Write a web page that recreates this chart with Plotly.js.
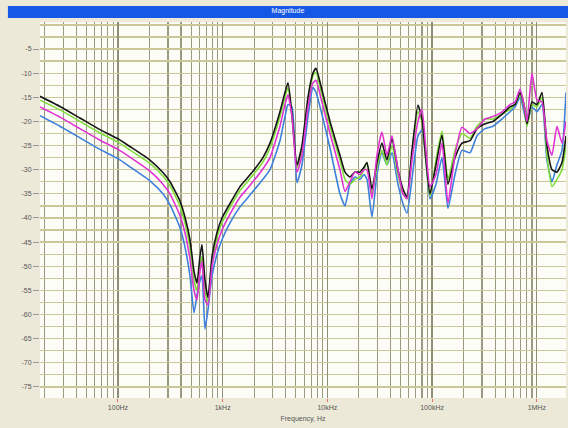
<!DOCTYPE html>
<html>
<head>
<meta charset="utf-8">
<script src="https://cdn.plot.ly/plotly-3.0.1.min.js"></script>
<style>html,body{margin:0;padding:0;background:#ECE9D8;}#chart{width:568px;height:428px;}</style>
</head>
<body>
<div id="chart"></div>
<script>
const freqHz = [18, 27.9, 43.4, 67.3, 100, 130, 202, 269, 314, 391, 436, 487, 532, 568, 607, 634, 678, 724, 791, 883, 985, 1175, 1463, 1706, 2034, 2426, 2830, 3525, 3937, 4207, 4592, 5126, 5719, 6530, 7284, 7786, 8876, 10590, 13190, 14730, 16440, 18350, 20480, 22370, 23890, 26660, 29760, 33220, 37080, 41390, 47220, 52700, 57550, 64230, 73290, 80140, 87450, 95490, 109000, 124400, 141900, 165500, 193100, 230200, 268600, 320000, 381700, 465600, 554800, 619400, 691500, 754800, 806100, 899600, 1004000, 1122000, 1251000, 1397000, 1559000, 1742000, 1902000];

const blackDb = [-14.8, -16.9, -19.3, -21.7, -23.6, -25.2, -28.0, -30.6, -32.5, -36.5, -39.8, -44.5, -51, -53.5, -48, -45.5, -53, -56.5, -48, -43, -40, -37, -33.5, -31.8, -29.8, -27.5, -24.5, -18, -14, -12, -18.5, -29, -25, -15, -10, -9, -13.5, -20, -27, -30.5, -31.5, -30.5, -30.5, -29.5, -28.5, -34, -28.5, -24.5, -28, -23.5, -30, -34, -35.6, -26, -16.6, -19.5, -28, -35, -29, -22.8, -33, -27.5, -24.5, -24, -21.5, -20.5, -20, -18.5, -17, -16.5, -14, -16.5, -20.5, -16, -16.5, -14, -25, -30, -30.5, -28.5, -23];

const greenDb = [-15.6, -17.6, -20.0, -22.4, -24.3, -25.9, -28.7, -31.3, -33.3, -37.5, -41, -46, -53, -55, -50, -48, -55, -57.5, -49, -44, -41, -37.8, -34.3, -32.6, -30.6, -28.4, -25.5, -19, -15, -13, -19, -29.5, -25.5, -16, -10.5, -9.8, -14.5, -21, -28, -32, -33, -32, -31.5, -30, -28.5, -35, -29.5, -26, -29, -25, -31, -35, -36, -27.5, -18, -20, -28.5, -35.5, -28, -22, -32, -26, -22.5, -23.5, -21, -19.5, -19.5, -18.5, -17.5, -16.5, -14.5, -17, -21, -16.5, -17, -15, -27, -33.5, -32, -30, -25];

const magentaDb = [-17, -19.1, -21.5, -23.9, -25.8, -27.4, -30.3, -33, -35, -39.5, -43, -48.5, -55, -57, -51, -49, -57, -58, -50, -45.5, -42.5, -39.2, -35.7, -34, -32, -29.8, -27.5, -21, -16.5, -14.5, -19, -30.5, -27, -17, -12, -11.5, -16, -22.5, -30, -34.5, -32.5, -30.5, -31, -30, -30, -36, -27, -22.2, -27, -23, -30, -35, -36, -28, -20, -17.5, -26, -33.5, -31, -24.5, -36.9, -27, -21.2, -22.5, -21.5, -19.5, -19, -18, -16.5, -16, -13.3, -16.5, -20, -10, -15.5, -16, -24, -27, -21, -24.5, -20];

const blueDb = [-18.8, -21, -23.4, -25.8, -27.7, -29.4, -32.3, -35, -37.3, -42, -46, -52, -59.7, -56, -53, -52, -63, -59, -52, -47.5, -44.5, -41, -37.7, -36, -34, -32, -30, -24, -19, -16.5, -17, -32.7, -29, -19, -13, -14, -18.5, -25.5, -35, -37.5, -33, -31.5, -32, -31, -32, -39.8, -31, -26.5, -29, -26.5, -33, -37, -39, -32, -23, -21.8, -28, -36, -33, -27.5, -38, -31, -26, -26.5, -23, -21.5, -21, -19.5, -18, -17, -15, -18, -20.5, -17, -18, -16.5, -28, -32.5, -29, -26, -14];

const xTickVals = [100, 1000, 10000, 100000, 1000000];
const xTickText = ['100Hz', '1kHz', '10kHz', '100kHz', '1MHz'];
const yTickVals = [-5, -10, -15, -20, -25, -30, -35, -40, -45, -50, -55, -60, -65, -70, -75];
const yTickText = ['-5', '-10', '-15', '-20', '-25', '-30', '-35', '-40', '-45', '-50', '-55', '-60', '-65', '-70', '-75'];

const mk = (y, color, name) => ({
  x: freqHz, y: y, type: 'scatter', mode: 'lines', name: name,
  line: {color: color, width: 1.6, shape: 'spline', smoothing: 0.5}, hoverinfo: 'skip'
});

const data = [
  mk(blueDb, '#3d80dc', 'blue'),
  mk(greenDb, '#7fdc3a', 'green'),
  mk(blackDb, '#151515', 'black'),
  mk(magentaDb, '#e034d2', 'magenta')
];

const layout = {
  width: 568, height: 428,
  paper_bgcolor: '#ECE9D8',
  plot_bgcolor: '#FDFDF8',
  showlegend: false,
  margin: {l: 40, r: 2, t: 22, b: 30, pad: 0},
  font: {family: 'Liberation Sans, Arial, sans-serif', size: 7, color: '#555'},
  title: {text: 'Magnitude', x: 0.507, xanchor: 'center', y: 0.9745, yanchor: 'middle',
          font: {size: 7, color: '#ffffff', family: 'Liberation Sans, Arial, sans-serif'}},
  shapes: [
    {type: 'rect', xref: 'paper', yref: 'paper', layer: 'below',
     x0: -0.061, x1: 1.01, y0: 1.0106, y1: 1.0426,
     fillcolor: '#1558E6', line: {width: 0}}
  ],
  xaxis: {
    type: 'log',
    range: [Math.log10(18), Math.log10(1902000)],
    tickvals: xTickVals, ticktext: xTickText,
    ticks: 'outside', ticklen: 3, tickcolor: '#e07070', tickwidth: 1,
    showgrid: true, gridcolor: '#8f8f78', gridwidth: 1.4,
    minor: {showgrid: true, gridcolor: '#9a9a82', gridwidth: 1.2, dtick: 'D1', ticks: ''},
    zeroline: false, showline: false,
    tickfont: {size: 7, color: '#555'},
    title: {text: 'Frequency, Hz', standoff: 5, font: {size: 7, color: '#555'}},
    fixedrange: true
  },
  yaxis: {
    range: [-77.3, 0.6],
    tickvals: yTickVals, ticktext: yTickText,
    ticks: 'outside', ticklen: 6, tickcolor: '#999', tickwidth: 1,
    showgrid: true, gridcolor: '#c9c896', gridwidth: 1.3,
    minor: {showgrid: true, gridcolor: '#c9c896', gridwidth: 1.3, dtick: 2.5, ticks: ''},
    zeroline: false, showline: false,
    tickfont: {size: 7, color: '#555'},
    fixedrange: true
  }
};

Plotly.newPlot('chart', data, layout, {displayModeBar: false, staticPlot: true});
</script>
</body>
</html>
